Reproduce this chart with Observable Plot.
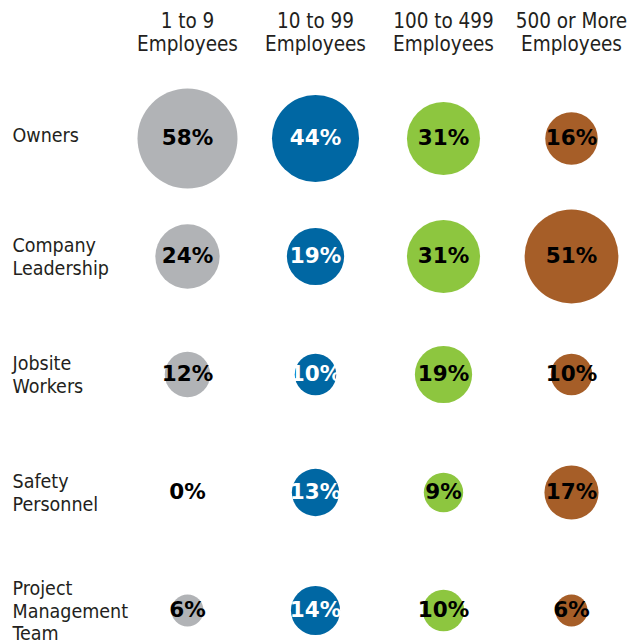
<!DOCTYPE html>
<html>
<head>
<meta charset="utf-8">
<script src="https://cdn.jsdelivr.net/npm/d3@7"></script>
<script src="https://cdn.jsdelivr.net/npm/@observablehq/plot@0.6"></script>
<style>
  html, body { margin: 0; padding: 0; background: #fff; }
</style>
</head>
<body>
<div id="chart"></div>
<script>
const columns = ["1 to 9\nEmployees", "10 to 99\nEmployees", "100 to 499\nEmployees", "500 or More\nEmployees"];
const rows = ["Owners", "Company\nLeadership", "Jobsite\nWorkers", "Safety\nPersonnel", "Project\nManagement\nTeam"];
const small = [58, 24, 12, 0, 6];
const medium = [44, 19, 10, 13, 14];
const large = [31, 31, 19, 9, 10];
const xlarge = [16, 51, 10, 17, 6];
const colors = ["#b1b3b6", "#0067a3", "#8dc63f", "#a65e28"];

const series = [small, medium, large, xlarge];
const data = [];
series.forEach((vals, ci) => vals.forEach((v, ri) => data.push({col: columns[ci], row: rows[ri], value: v})));

const labelFont = "'DejaVu Sans Condensed', 'Liberation Sans Narrow', sans-serif";
const numFont = "'DejaVu Sans', sans-serif";

const chart = Plot.plot({
  width: 631,
  height: 643,
  marginTop: 0, marginRight: 0, marginBottom: 0, marginLeft: 0,
  style: {background: "#fff"},
  x: {type: "point", domain: columns, range: [187, 571], padding: 0, axis: null},
  y: {type: "point", domain: rows, range: [138, 610], padding: 0, axis: null},
  r: {type: "sqrt", domain: [0, 58], range: [0, 50]},
  color: {type: "ordinal", domain: columns, range: colors},
  marks: [
    Plot.dot(data, {x: "col", y: "row", r: "value", fill: "col", stroke: null}),
    Plot.text(data.filter(d => d.col !== columns[1]), {
      x: "col", y: "row", text: d => d.value + "%", fill: "#000",
      fontFamily: numFont, fontWeight: "bold", fontSize: 21.5
    }),
    Plot.text(data.filter(d => d.col === columns[1]), {
      x: "col", y: "row", text: d => d.value + "%", fill: "#fff",
      fontFamily: numFont, fontWeight: "bold", fontSize: 21.5
    }),
    Plot.text(columns, {
      x: d => d, text: d => d, frameAnchor: "top", lineAnchor: "top", dy: 11,
      fontFamily: labelFont, fontSize: 20.5, lineHeight: 1.12, fill: "#231f20"
    }),
    Plot.text(rows.filter(r => !r.includes("\n")), {
      y: d => d, text: d => d, frameAnchor: "left", textAnchor: "start", dx: 12, dy: -4,
      fontFamily: labelFont, fontSize: 19.5, lineHeight: 1.15, fill: "#231f20"
    }),
    Plot.text(rows.filter(r => r.includes("\n")), {
      y: d => d, text: d => d, frameAnchor: "left", textAnchor: "start", dx: 12,
      fontFamily: labelFont, fontSize: 19.5, lineHeight: 1.15, fill: "#231f20"
    })
  ]
});
document.getElementById("chart").appendChild(chart);
</script>
</body>
</html>
